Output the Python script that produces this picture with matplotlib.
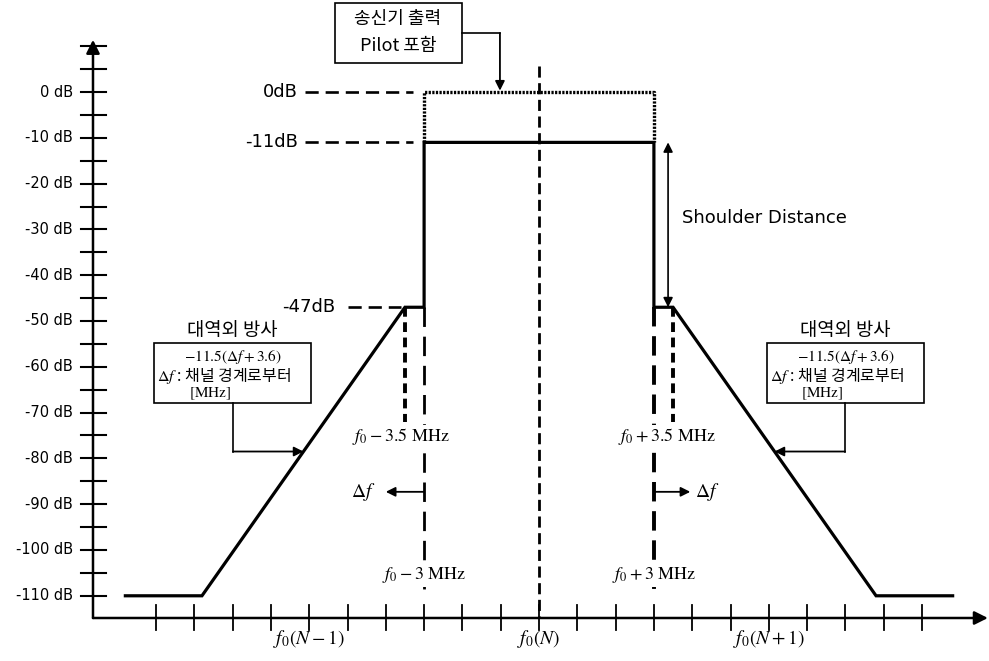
import numpy as np
import matplotlib.pyplot as plt
from matplotlib.patches import Rectangle

plt.rcParams['lines.scale_dashes'] = False
plt.rcParams['mathtext.fontset'] = 'stix'
KR = ['Noto Sans CJK KR', 'DejaVu Sans']

# 스펙트럼 마스크: 주파수 [MHz, f0(N) 기준], 레벨 [dB]
spec_f = [-10.8, -8.8, -3.5, -3.0, -3.0, 3.0, 3.0, 3.5, 8.8, 10.8]
spec_db = [-110, -110, -47, -47, -11, -11, -47, -47, -110, -110]
pilot_f = [-3.0, -3.0, 3.0, 3.0]
pilot_db = [-11, 0, 0, -11]

ref_db = [0, -11, -47]
ref_text = ['0dB', '-11dB', '-47dB']

ytick_db = np.arange(-110, 15, 5)
ylabel_db = np.arange(-110, 5, 10)
xtick_f = np.arange(-10, 11)
chan_f = [-6, 0, 6]
chan_text = [r'$f_0(N-1)$', r'$f_0(N)$', r'$f_0(N+1)$']
edge_f = 3.0
shoulder_f = 3.5

fig = plt.figure(figsize=(9.89, 6.61), dpi=100)
ax = fig.add_axes([0, 0, 1, 1])
ax.set_xlim(-14.073, 11.749)
ax.set_ylim(-124.24, 20.09)
ax.axis('off')

# 축
x_axis = -114.85
y_axis = -11.645
arr = dict(arrowstyle='-|>', color='k', lw=1.8, mutation_scale=20, shrinkA=0, shrinkB=0)
ax.annotate('', xy=(y_axis, 11.4), xytext=(y_axis, x_axis), arrowprops=arr)
ax.annotate('', xy=(11.72, x_axis), xytext=(y_axis, x_axis), arrowprops=arr)
for v in ytick_db:
    ax.plot([-11.96, -11.31], [v, v], color='k', lw=1.5)
for v in ylabel_db:
    ax.text(-12.17, v, f'{v} dB', ha='right', va='center', fontsize=10.5)
for f in xtick_f:
    ax.plot([f, f], [-112.0, -117.5], color='k', lw=1.3)
for f, t in zip(chan_f, chan_text):
    ax.text(f, -119.5, t, ha='center', va='center', fontsize=14)

# 중심 주파수 점선
ax.plot([0, 0], [5.7, x_axis], color='k', lw=2.0, dashes=(8, 4))

# 기준 레벨
for lvl, t, x0, x1, xt in zip(ref_db, ref_text, [-6.1, -6.1, -5.0], [-3.3, -3.3, -3.6], [-6.3, -6.3, -5.33]):
    ax.plot([x0, x1], [lvl, lvl], color='k', lw=1.9, dashes=(9.5, 5))
    ax.text(xt, lvl, t, ha='right', va='center', fontsize=13)

# 마스크
ax.plot(pilot_f, pilot_db, color='k', lw=2.4, dashes=(1.6, 1.0))
ax.plot(spec_f, spec_db, color='k', lw=2.3, solid_joinstyle='miter')

# 채널 경계 및 숄더 위치
for s in (-1, 1):
    ax.plot([s * edge_f] * 2, [-47, -109], color='k', lw=2.0 if s < 0 else 2.8, dashes=(14, 7))
    ax.plot([s * shoulder_f] * 2, [-47, -72], color='k', lw=2.8, dashes=(7, 4))
    sign = '-' if s < 0 else '+'
    ax.text(s * edge_f, -105.5, rf'$f_0 {sign} 3\ \mathrm{{MHz}}$', ha='center', va='center',
            fontsize=13, bbox=dict(fc='white', ec='none', pad=1))
ax.text(-4.88, -75.3, r'$f_0 - 3.5\ \mathrm{MHz}$', ha='left', va='center', fontsize=13,
        bbox=dict(fc='white', ec='none', pad=1))
ax.text(2.06, -75.3, r'$f_0 + 3.5\ \mathrm{MHz}$', ha='left', va='center', fontsize=13,
        bbox=dict(fc='white', ec='none', pad=1))

# Δf 방향
small = dict(arrowstyle='-|>', color='k', lw=1.3, mutation_scale=14, shrinkA=0, shrinkB=0)
ax.annotate('', xy=(-4.0, -87.3), xytext=(-edge_f, -87.3), arrowprops=small)
ax.annotate('', xy=(3.95, -87.3), xytext=(edge_f, -87.3), arrowprops=small)
ax.text(-4.6, -87.3, r'$\Delta f$', ha='center', va='center', fontsize=14)
ax.text(4.39, -87.3, r'$\Delta f$', ha='center', va='center', fontsize=14)

# Shoulder Distance
ax.annotate('', xy=(3.37, -47), xytext=(3.37, -11),
            arrowprops=dict(arrowstyle='<|-|>', color='k', lw=1.2, mutation_scale=14, shrinkA=0, shrinkB=0))
ax.text(3.73, -27.5, 'Shoulder Distance', ha='left', va='center', fontsize=13)

# 송신기 출력 박스
ax.add_patch(Rectangle((-5.33, 6.33), 3.32, 13.1, fill=False, ec='k', lw=1.2))
ax.text(-3.68, 16.0, '송신기 출력', ha='center', va='center', fontsize=13, family=KR)
ax.text(-3.68, 10.0, 'Pilot 포함', ha='center', va='center', fontsize=13, family=KR)
ax.plot([-2.01, -1.02], [12.88, 12.88], color='k', lw=1.2)
ax.annotate('', xy=(-1.02, 0.3), xytext=(-1.02, 12.88), arrowprops=small)

# 대역외 방사 설명
for s in (-1, 1):
    cx = s * 8.0
    ax.text(cx, -52.0, '대역외 방사', ha='center', va='center', fontsize=13.5, family=KR)
    ax.add_patch(Rectangle((cx - 2.05, -68.0), 4.1, 13.2, fill=False, ec='k', lw=1.2))
    ax.text(cx, -57.9, r'$-11.5(\Delta f + 3.6)$', ha='center', va='center', fontsize=11)
    ax.text(cx - 1.97, -62.0, r'$\Delta f$ : 채널 경계로부터', ha='left', va='center', fontsize=11.5, family=KR)
    ax.text(cx - 0.6, -65.8, r'$[\mathrm{MHz}]$', ha='center', va='center', fontsize=11)
    lead = -78.5
    xs = s * 7.99
    tip = np.interp(lead, spec_db[1:3], spec_f[1:3]) if s < 0 else np.interp(lead, spec_db[8:6:-1], spec_f[8:6:-1])
    ax.plot([xs, xs], [-68.0, lead], color='k', lw=1.2)
    ax.annotate('', xy=(tip, lead), xytext=(xs, lead), arrowprops=small)

fig.savefig('out.png', dpi=100)
